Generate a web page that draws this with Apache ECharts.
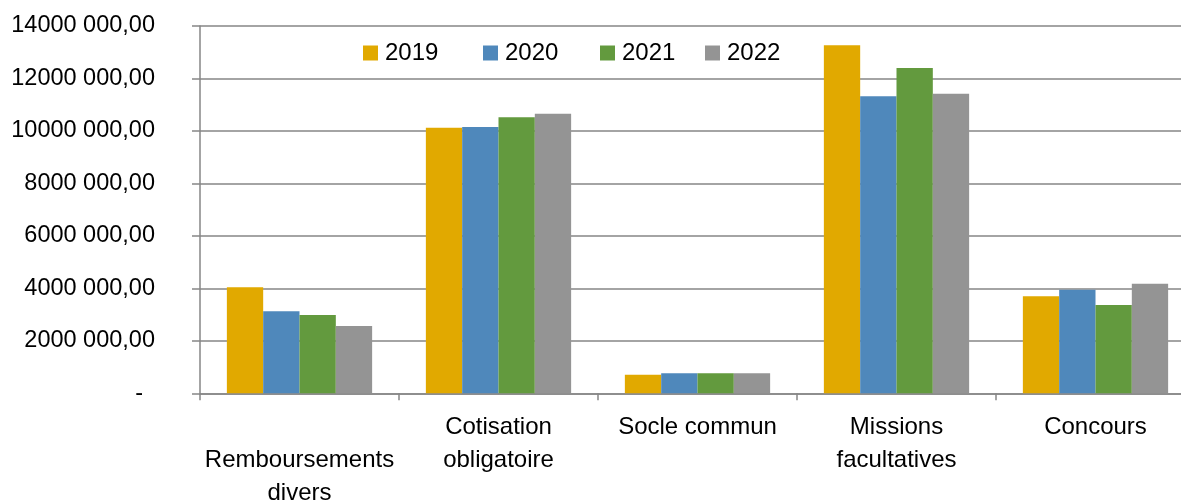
<!DOCTYPE html>
<html><head><meta charset="utf-8">
<script src="https://cdn.jsdelivr.net/npm/echarts@6/dist/echarts.min.js"></script>
<style>html,body{margin:0;padding:0;background:#fff}#c{width:1181px;height:502px}</style>
</head><body><div id="c"></div>
<script>
const categories = ['\nRemboursements\ndivers', 'Cotisation\nobligatoire', 'Socle commun', 'Missions\nfacultatives', 'Concours'];
const seriesNames = ['2019', '2020', '2021', '2022'];
const v2019 = [4040000, 10120000, 710000, 13270000, 3700000];
const v2020 = [3125000, 10150000, 760000, 11320000, 3950000];
const v2021 = [2980000, 10520000, 760000, 12400000, 3370000];
const v2022 = [2565000, 10660000, 760000, 11420000, 4180000];
const colors = ['#E1A900', '#4F88BB', '#639A3E', '#949494'];
const values = [v2019, v2020, v2021, v2022];
const legendLefts = [363, 483, 600, 705];

function fmt(v) {
  if (v === 0) return '{z|-}';
  const th = Math.floor(v / 1000);
  const rest = String(Math.round(v % 1000)).padStart(3, '0');
  return th + ' ' + rest + ',00';
}

const chart = echarts.init(document.getElementById('c'));
const font = 'Liberation Sans';
chart.setOption({
  animation: false,
  color: colors,
  textStyle: { fontFamily: font },
  legend: seriesNames.map((n, i) => ({
    data: [n],
    left: legendLefts[i], top: 41, padding: 0,
    itemWidth: 15, itemHeight: 15, itemGap: 0,
    icon: 'rect',
    textStyle: { fontSize: 24, color: '#000', fontFamily: font, padding: [0, 0, 0, 2] }
  })),
  grid: { left: 200, top: 26, width: 995, bottom: 108.7, containLabel: false, outerBoundsMode: 'none' },
  xAxis: {
    type: 'category',
    data: categories,
    axisLine: { lineStyle: { color: '#868686', width: 1.5 } },
    axisTick: { show: true, length: 7, lineStyle: { color: '#868686', width: 1.5 } },
    axisLabel: { fontSize: 24, color: '#000', fontFamily: font, lineHeight: 33, margin: 18, interval: 0 }
  },
  yAxis: {
    type: 'value', min: 0, max: 14000000, interval: 2000000,
    axisLine: { show: true, lineStyle: { color: '#868686', width: 1.5 } },
    axisTick: { show: true, length: 8, lineStyle: { color: '#868686', width: 1.5 } },
    splitLine: { lineStyle: { color: '#868686', width: 1.5 } },
    axisLabel: { fontSize: 23.5, color: '#000', fontFamily: font, margin: 45, formatter: fmt,
      rich: { z: { fontSize: 23.5, color: '#000', fontFamily: font, padding: [0, 12, 0, 0] } } }
  },
  series: seriesNames.map((n, i) => ({
    name: n, type: 'bar', data: values[i],
    barGap: '0%', barCategoryGap: '27%',
    itemStyle: { color: colors[i] }
  }))
});
</script></body></html>
